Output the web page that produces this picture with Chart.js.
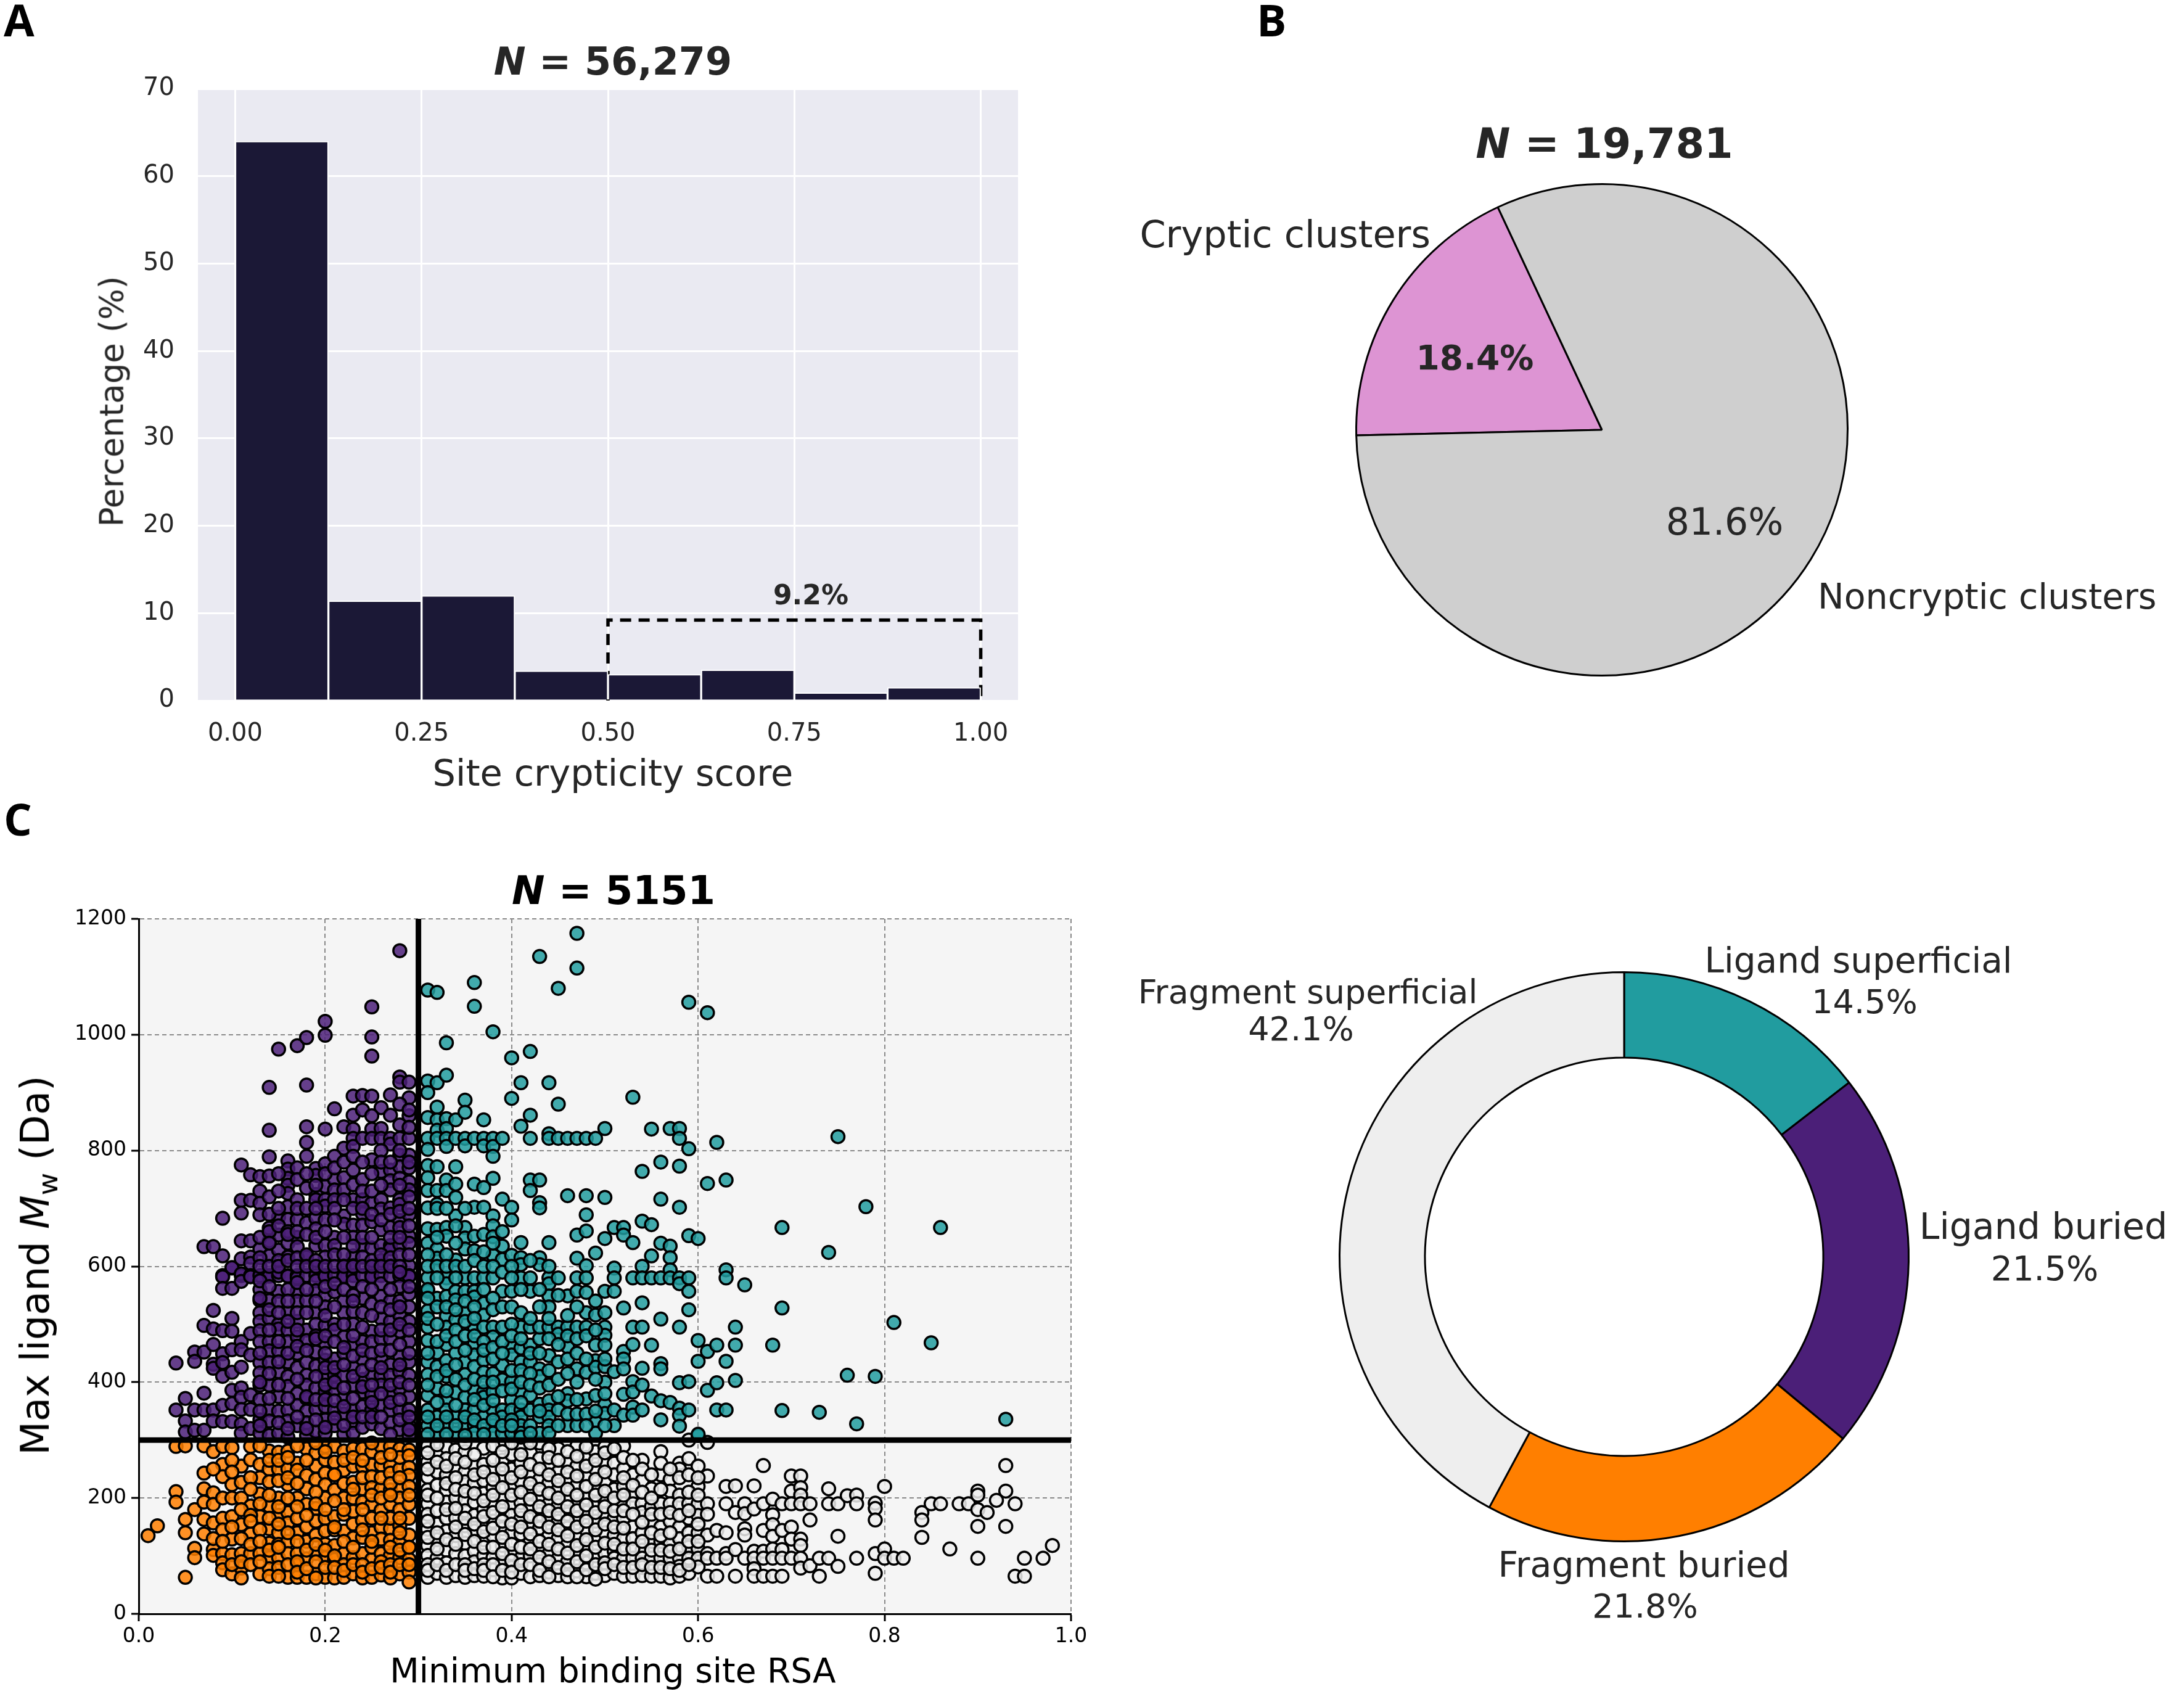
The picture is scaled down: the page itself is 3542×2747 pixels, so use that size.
<!DOCTYPE html>
<html>
<head>
<meta charset="utf-8">
<script src="https://cdn.jsdelivr.net/npm/chart.js@4/dist/chart.umd.min.js"></script>
<style>
html, body { margin: 0; padding: 0; background: #fff; }
body { width: 3542px; height: 2747px; position: relative; overflow: hidden; font-family: "DejaVu Sans"; }
canvas { position: absolute; }
.letter { position: absolute; font: bold 72px "Open Sans"; color: #000; line-height: 1; }
.title { position: absolute; font: bold 62px "DejaVu Sans"; color: #262626; transform: translate(-50%, -50%); white-space: nowrap; z-index: 2; }
.xlabel { position: absolute; color: #262626; transform: translate(-50%, -50%); white-space: nowrap; z-index: 2; }
.ylabel { position: absolute; color: #262626; transform: translate(-50%, -50%) rotate(-90deg); white-space: nowrap; z-index: 2; }
sub { font-size: 70%; line-height: 0; }
</style>
</head>
<body>
<div class="letter" style="left:6px;top:-5px">A</div>
<div class="letter" style="left:2038px;top:-5px">B</div>
<div class="letter" style="left:6px;top:1291px">C</div>
<div class="title" style="left:994px;top:99px"><i>N</i> = 56,279</div>
<div class="title" style="left:2602px;top:233px;font-size:67px"><i>N</i> = 19,781</div>
<div class="title" style="left:995px;top:1444px;font-size:64px;color:#000"><i>N</i> = 5151</div>
<div class="xlabel" style="left:994px;top:1253px;font-size:59px">Site crypticity score</div>
<div class="ylabel" style="left:181px;top:651px;font-size:53px">Percentage (%)</div>
<div class="xlabel" style="left:994px;top:2709px;font-size:55px;color:#000">Minimum binding site RSA</div>
<div class="ylabel" style="left:57px;top:2052px;font-size:63.5px;color:#000">Max ligand <i>M</i><sub>w</sub> (Da)</div>
<canvas id="histChart" width="1760" height="1300" style="left:0;top:0"></canvas>
<canvas id="pieChart" width="1762" height="1300" style="left:1780px;top:0"></canvas>
<canvas id="scatterChart" width="1780" height="1447" style="left:0;top:1300px"></canvas>
<canvas id="donutChart" width="1762" height="1447" style="left:1780px;top:1300px"></canvas>
<script>
// panel A
const binCenters = [0.0625, 0.1875, 0.3125, 0.4375, 0.5625, 0.6875, 0.8125, 0.9375];
const binPercent = [64, 11.4, 12, 3.4, 3, 3.5, 0.9, 1.5];
const histXTicks = [0, 0.25, 0.5, 0.75, 1];
const boxX = [0.5, 0.5, 1, 1];
const boxY = [0, 9.2, 9.2, 0];

// panel B
const pieLabels = ['Cryptic clusters', 'Noncryptic clusters'];
const pieValues = [18.4, 81.6];

// panel D
const donutLabels = ['Ligand superficial', 'Ligand buried', 'Fragment buried', 'Fragment superficial'];
const donutValues = [14.5, 21.5, 21.8, 42.1];

// panel C: [x, [y, y, ...]] by column
const ligandBuriedColumns = [
  [0.04, [433, 352]],
  [0.05, [372, 333, 314]],
  [0.06, [452, 436, 352, 317]],
  [0.07, [634, 498, 452, 381, 352, 317]],
  [0.08, [634, 524, 492, 465, 431, 424, 352, 333]],
  [0.09, [683, 618, 584, 582, 562, 489, 449, 434, 410, 360, 332]],
  [0.10, [597, 598, 562, 510, 488, 456, 417, 386, 363, 332]],
  [0.11, [775, 714, 692, 644, 613, 584, 587, 574, 470, 456, 426, 390, 374, 353, 328, 312]],
  [0.12, [758, 714, 644, 616, 605, 584, 582, 484, 447, 378, 353, 320]],
  [0.13, [755, 730, 709, 689, 630, 584, 560, 541, 520, 505, 489, 470, 434, 416, 395, 370, 335, 312]],
  [0.14, [909, 835, 789, 756, 666, 644, 618, 584, 583, 541, 510, 470, 454, 434, 395, 352, 333, 308]],
  [0.15, [975, 685, 654, 628, 584, 590, 557, 500, 492, 454, 418, 375, 350, 312]],
  [0.16, [782, 768, 752, 740, 726, 703, 681, 640, 616, 584, 583, 520, 490, 470, 435, 410, 393, 352, 333, 305]],
  [0.17, [981, 715, 681, 650, 634, 584, 580, 557, 540, 505, 478, 450, 425, 380, 360, 325]],
  [0.18, [995, 913, 841, 814, 675, 616, 584, 541, 490, 472, 434, 412, 395, 372, 350, 330, 308]],
  [0.19, [769, 757, 724, 715, 683, 665, 636, 584, 575, 558, 520, 500, 452, 428, 390, 353, 315]],
  [0.20, [1023, 999, 837, 777, 738, 715, 704, 636, 616, 584, 583, 550, 530, 498, 468, 438, 410, 383, 358, 335, 312]],
  [0.21, [872, 750, 732, 715, 650, 636, 584, 556, 500, 490, 440, 412, 388, 352, 325]],
  [0.22, [841, 804, 753, 732, 687, 673, 601, 584, 582, 540, 520, 478, 450, 412, 372, 345, 310]],
  [0.23, [894, 861, 837, 821, 807, 766, 741, 715, 671, 650, 618, 601, 584, 575, 522, 500, 465, 425, 395, 352, 330, 312]],
  [0.24, [895, 821, 715, 691, 671, 636, 616, 584, 545, 470, 440, 405, 383, 358, 322]],
  [0.25, [1048, 996, 963, 894, 837, 821, 784, 709, 677, 632, 584, 582, 535, 488, 470, 413, 378, 352, 328]],
  [0.26, [874, 838, 821, 764, 715, 699, 663, 636, 610, 584, 570, 548, 510, 475, 440, 412, 395, 360, 320]],
  [0.27, [896, 861, 821, 811, 766, 748, 732, 701, 667, 636, 630, 601, 583, 540, 505, 475, 430, 412, 380, 352, 330]],
  [0.28, [1145, 927, 918, 844, 821, 792, 772, 752, 715, 707, 679, 667, 638, 584, 565, 540, 515, 488, 445, 418, 388, 352, 318]],
  [0.29, [918, 891, 860, 821, 792, 770, 746, 732, 689, 652, 640, 601, 584, 583, 552, 530, 505, 470, 435, 412, 375, 352, 325, 308]]
];
const ligandBuriedExtra = [
  [0.13, [650, 615, 600, 575, 545, 450, 400, 350, 325]],
  [0.14, [720, 690, 660, 640, 600, 565, 525, 490, 415, 372]],
  [0.15, [760, 730, 700, 670, 610, 600, 540, 520, 470, 435, 395, 330]],
  [0.16, [660, 655, 610, 560, 540, 505, 450, 372, 320]],
  [0.17, [770, 750, 700, 660, 615, 600, 572, 520, 490, 462, 405, 340]],
  [0.18, [790, 760, 735, 700, 655, 620, 600, 560, 520, 455, 375, 320]],
  [0.19, [740, 700, 650, 610, 600, 540, 480, 475, 410, 370, 335]],
  [0.20, [760, 680, 660, 600, 565, 515, 480, 450, 425, 395, 370, 322]],
  [0.21, [790, 770, 700, 680, 620, 600, 570, 530, 470, 425, 400, 368, 338]],
  [0.22, [780, 715, 650, 620, 600, 560, 500, 460, 430, 390, 358, 325]],
  [0.23, [790, 700, 635, 600, 550, 540, 480, 445, 410, 372, 340]],
  [0.24, [870, 780, 750, 730, 700, 650, 600, 565, 520, 495, 455, 420, 392, 340]],
  [0.25, [860, 760, 730, 690, 650, 610, 600, 560, 515, 450, 430, 395, 365, 340]],
  [0.26, [800, 780, 740, 680, 620, 600, 530, 490, 455, 425, 380, 340]],
  [0.27, [780, 690, 650, 615, 600, 560, 525, 490, 455, 395, 365, 310]],
  [0.28, [880, 800, 740, 695, 650, 620, 600, 590, 530, 500, 465, 430, 400, 370, 335]],
  [0.29, [870, 840, 780, 720, 700, 670, 620, 565, 490, 450, 395, 340, 318]]
];

const ligandSuperficialColumns = [
  [0.31, [1077, 920, 900, 857, 821, 802, 774, 753, 731, 701, 665, 640, 580, 557, 523, 495, 472, 435, 413, 377, 352, 325]],
  [0.32, [1073, 917, 875, 853, 835, 821, 772, 731, 707, 664, 630, 614, 545, 451, 427, 389, 340, 312]],
  [0.33, [986, 930, 855, 838, 821, 807, 749, 731, 667, 652, 580, 570, 548, 514, 495, 465, 437, 410, 369, 352, 325]],
  [0.34, [853, 821, 772, 742, 719, 687, 611, 557, 542, 508, 450, 382, 340, 312]],
  [0.35, [887, 866, 821, 808, 667, 649, 630, 580, 557, 520, 435, 413, 374, 352, 325]],
  [0.36, [1090, 1049, 821, 742, 702, 652, 627, 580, 557, 547, 495, 465, 447, 427, 386, 352, 325, 312]],
  [0.37, [853, 821, 808, 736, 702, 655, 580, 536, 516, 495, 438, 417, 383, 374, 340]],
  [0.38, [1005, 821, 807, 790, 752, 687, 670, 651, 619, 580, 495, 478, 415, 383, 352, 325, 312]],
  [0.39, [821, 716, 635, 612, 495, 429, 404, 557, 352, 340, 312]],
  [0.40, [960, 890, 702, 680, 619, 557, 462, 447, 401, 369, 352, 312]],
  [0.41, [917, 842, 641, 615, 603, 580, 495, 459, 435, 383, 352, 340, 325, 312]],
  [0.42, [971, 861, 821, 749, 731, 580, 557, 495, 464, 435, 377, 352]],
  [0.43, [1135, 749, 710, 701, 615, 603, 475, 423, 410, 495, 362, 340, 312]],
  [0.44, [917, 829, 821, 641, 580, 570, 549, 530, 495, 446, 368, 352, 340, 325, 312]],
  [0.45, [1080, 880, 821, 580, 495, 483, 435, 352]],
  [0.46, [821, 722, 549, 495, 461, 440, 380, 368, 325]],
  [0.47, [1175, 1115, 821, 654, 614, 580, 557, 495, 450, 423, 400, 325]],
  [0.48, [821, 722, 689, 661, 601, 580, 520, 495, 417, 371]],
  [0.49, [821, 623, 516, 464, 437, 426, 377, 334, 312]],
  [0.50, [838, 719, 648, 557, 495, 481, 464, 427, 400, 361, 346]],
  [0.51, [667, 597, 580, 557, 418, 352, 325]],
  [0.52, [667, 654, 528, 453, 440, 423, 379, 343]],
  [0.53, [892, 641, 580, 495, 465, 401, 383, 357, 343]],
  [0.54, [764, 678, 600, 580, 537, 495, 424, 395, 352]],
  [0.55, [837, 672, 618, 580, 464, 376]],
  [0.56, [780, 716, 640, 580, 509, 432, 423, 368, 335]],
  [0.57, [838, 635, 615, 594, 580, 365]],
  [0.58, [838, 821, 773, 702, 580, 570, 495, 399, 355, 343, 324]],
  [0.59, [1056, 803, 653, 580, 557, 525, 401, 352]],
  [0.60, [648, 472, 436, 308, 310]],
  [0.61, [1038, 743, 453, 386]],
  [0.62, [814, 464, 399, 352]],
  [0.63, [749, 594, 580, 436, 352]],
  [0.64, [495, 464, 403]],
  [0.65, [568]],
  [0.68, [464]],
  [0.69, [667, 528, 351]],
  [0.73, [348]],
  [0.74, [624]],
  [0.75, [824]],
  [0.76, [412]],
  [0.77, [328]],
  [0.78, [703]],
  [0.79, [410]],
  [0.81, [503]],
  [0.85, [468]],
  [0.86, [667]],
  [0.93, [336]]
];
const ligandSuperficialExtra = [
  [0.31, [620, 600, 560, 545, 510, 450, 395, 340, 310]],
  [0.32, [700, 650, 600, 580, 530, 500, 470, 410, 365, 325]],
  [0.33, [700, 620, 600, 530, 480, 420, 385, 340, 310]],
  [0.34, [670, 640, 600, 580, 525, 490, 470, 430, 405, 360, 325]],
  [0.35, [700, 600, 540, 505, 480, 455, 395, 340, 308]],
  [0.36, [610, 530, 510, 480, 405, 370, 335]],
  [0.37, [625, 600, 560, 470, 455, 400, 360, 325, 310]],
  [0.38, [640, 600, 545, 525, 460, 440, 400, 368, 335]],
  [0.39, [660, 590, 530, 470, 450, 385, 325]],
  [0.40, [600, 580, 530, 500, 480, 420, 388, 335, 325]],
  [0.41, [560, 520, 475, 420, 400, 365, 305]],
  [0.42, [610, 510, 450, 415, 395, 325, 312]],
  [0.43, [560, 530, 450, 390, 350]],
  [0.44, [600, 510, 475, 420, 395]],
  [0.45, [550, 465, 405, 375, 325]],
  [0.46, [515, 480, 415, 345]],
  [0.47, [530, 475, 370, 345]],
  [0.48, [555, 480, 440, 345, 325]],
  [0.49, [540, 490, 405, 350]],
  [0.50, [520, 440, 380, 325]]
];

const fragmentBuriedColumns = [
  [0.01, [135]],
  [0.02, [152]],
  [0.04, [289, 211, 193]],
  [0.05, [290, 163, 140, 63]],
  [0.06, [180, 113, 97]],
  [0.07, [290, 243, 216, 193, 163, 138]],
  [0.08, [280, 209, 189, 157, 111, 101]],
  [0.09, [289, 258, 237, 200, 165, 145, 104, 88, 76]],
  [0.10, [287, 223, 200, 168, 129, 102, 69]],
  [0.11, [255, 227, 200, 154, 104, 79, 62]],
  [0.12, [289, 266, 186, 138, 104]],
  [0.13, [258, 235, 207, 168, 104, 69]],
  [0.14, [281, 250, 228, 186, 147, 122, 97, 78]],
  [0.15, [279, 250, 200, 140, 97, 170, 120]],
  [0.16, [281, 250, 223, 175, 157, 125, 104, 63]],
  [0.17, [260, 248, 200, 165, 140, 104, 63, 85]],
  [0.18, [285, 239, 216, 189, 150, 125, 95, 63]],
  [0.19, [278, 232, 182, 136, 104, 69, 160, 255]],
  [0.20, [289, 266, 243, 223, 200, 165, 143, 97, 63, 120]],
  [0.21, [289, 262, 214, 168, 118, 94, 62, 240, 145]],
  [0.22, [281, 248, 225, 200, 172, 143, 104, 63, 85]],
  [0.23, [285, 227, 200, 177, 131, 97, 69, 255, 155]],
  [0.24, [285, 255, 216, 193, 161, 132, 104, 62, 235]],
  [0.25, [280, 257, 237, 218, 189, 140, 94, 63, 165, 115]],
  [0.26, [289, 257, 216, 179, 149, 129, 104, 67, 235]],
  [0.27, [289, 255, 243, 214, 189, 147, 127, 101, 62, 165]],
  [0.28, [285, 250, 218, 200, 180, 152, 125, 97, 69, 270]],
  [0.29, [283, 273, 253, 239, 220, 189, 165, 136, 115, 94, 72, 55]]
];
const fragmentBuriedExtra = [
  [0.08, [250, 130]],
  [0.09, [125]],
  [0.10, [265, 245, 150, 85]],
  [0.11, [180, 130, 90]],
  [0.12, [235, 215, 170, 160, 120, 85]],
  [0.13, [290, 190, 145, 125, 90]],
  [0.14, [265, 205, 165, 110, 65]],
  [0.15, [265, 230, 185, 155, 115, 80, 65]],
  [0.16, [270, 235, 200, 140, 85]],
  [0.17, [290, 225, 185, 125, 90, 72]],
  [0.18, [265, 170, 110, 78]],
  [0.19, [295, 210, 190, 120, 90, 62]],
  [0.20, [280, 180, 110, 80]],
  [0.21, [240, 195, 150, 100, 80]],
  [0.22, [265, 180, 125, 75]],
  [0.23, [270, 215, 115, 85]],
  [0.24, [265, 180, 145, 85, 72]],
  [0.25, [295, 205, 125, 78]],
  [0.26, [270, 200, 165, 90, 80]],
  [0.27, [275, 225, 205, 115, 85, 72]],
  [0.28, [235, 165, 140, 110, 85]],
  [0.29, [205, 115, 85]]
];

const fragmentSuperficialColumns = [
  [0.31, [290, 262, 236, 214, 190, 172, 146, 118, 101, 63]],
  [0.32, [275, 245, 222, 178, 155, 128, 96, 70]],
  [0.33, [288, 268, 240, 214, 193, 165, 143, 110, 88, 63]],
  [0.34, [283, 250, 200, 165, 135, 104, 66]],
  [0.35, [280, 245, 228, 197, 178, 152, 122, 100, 63]],
  [0.36, [256, 226, 193, 170, 143, 108, 90, 66]],
  [0.37, [286, 258, 230, 208, 180, 155, 128, 100, 65]],
  [0.38, [248, 218, 190, 160, 135, 97, 76]],
  [0.39, [292, 265, 235, 200, 172, 147, 118, 88, 62]],
  [0.40, [275, 250, 220, 190, 170, 140, 104, 80, 62]],
  [0.41, [290, 260, 228, 192, 165, 138, 96, 70]],
  [0.42, [278, 240, 210, 185, 150, 125, 100, 64]],
  [0.43, [295, 268, 232, 200, 172, 148, 112, 85, 66]],
  [0.44, [255, 226, 190, 165, 135, 104, 72]],
  [0.45, [285, 245, 215, 187, 160, 130, 96, 66]],
  [0.46, [262, 232, 198, 172, 148, 120, 90, 64]],
  [0.47, [290, 255, 222, 188, 165, 135, 104, 74]],
  [0.48, [270, 240, 200, 175, 145, 112, 88, 64]],
  [0.49, [280, 250, 215, 190, 160, 130, 100, 70]],
  [0.50, [288, 262, 230, 195, 172, 140, 104, 66]],
  [0.51, [260, 240, 215, 190, 165, 135, 108, 96, 70]],
  [0.52, [290, 250, 220, 190, 165, 130, 96, 65]],
  [0.53, [240, 205, 190, 150, 130, 96, 65]],
  [0.54, [265, 230, 190, 175, 140, 110, 96, 80, 66]],
  [0.55, [216, 185, 160, 125, 96, 65]],
  [0.56, [280, 240, 190, 150, 125, 96, 65]],
  [0.57, [232, 212, 190, 160, 120, 96, 62]],
  [0.58, [260, 250, 205, 190, 150, 130, 96, 82, 65]],
  [0.59, [300, 268, 190, 165, 140, 115, 96, 70]],
  [0.60, [255, 220, 190, 170, 140, 112, 96, 81]],
  [0.61, [296, 238, 190, 172, 136, 104, 96, 65]],
  [0.62, [144, 96, 65]],
  [0.63, [220, 190, 140, 104, 96]],
  [0.64, [221, 175, 111, 65]],
  [0.65, [190, 173, 147, 136, 96]],
  [0.66, [221, 181, 108, 96, 78, 65]],
  [0.67, [256, 190, 144, 108, 96, 65]],
  [0.68, [198, 171, 154, 134, 112, 96, 65]],
  [0.69, [190, 144, 111, 96, 65]],
  [0.70, [238, 212, 190, 150, 129, 96]],
  [0.71, [238, 218, 205, 190, 129, 118, 96, 79]],
  [0.72, [190, 162, 83]],
  [0.73, [96, 65]],
  [0.74, [216, 190, 96]],
  [0.75, [190, 134, 82]],
  [0.76, [204]],
  [0.77, [205, 190, 96]],
  [0.79, [191, 182, 162, 104, 70]],
  [0.80, [220, 112, 96]],
  [0.81, [96]],
  [0.82, [96]],
  [0.84, [175, 162, 132]],
  [0.85, [190]],
  [0.86, [190]],
  [0.87, [112]],
  [0.88, [190]],
  [0.89, [190]],
  [0.90, [212, 205, 180, 151, 96]],
  [0.91, [175]],
  [0.92, [196]],
  [0.93, [256, 212, 151]],
  [0.94, [190, 65]],
  [0.95, [96, 65]],
  [0.97, [96]],
  [0.98, [118]]
];
const fragmentSuperficialExtra = [
  [0.31, [278, 250, 205, 160, 132, 85, 75]],
  [0.32, [292, 262, 200, 140, 112, 85]],
  [0.33, [255, 225, 180, 128, 75]],
  [0.34, [268, 235, 215, 182, 150, 120, 85]],
  [0.35, [295, 262, 212, 165, 137, 85, 75]],
  [0.36, [275, 240, 208, 155, 125, 78]],
  [0.37, [245, 195, 168, 142, 115, 85, 75]],
  [0.38, [290, 265, 232, 205, 175, 148, 115, 85, 64]],
  [0.39, [280, 250, 218, 185, 160, 132, 104, 75]],
  [0.40, [295, 235, 205, 155, 120, 92, 72]],
  [0.41, [275, 245, 210, 178, 150, 115, 85]],
  [0.42, [295, 258, 225, 198, 168, 138, 112, 85]],
  [0.43, [250, 215, 185, 160, 125, 98, 75]],
  [0.44, [285, 270, 240, 208, 178, 150, 120, 90, 64]],
  [0.45, [265, 230, 200, 172, 145, 112, 80]],
  [0.46, [280, 245, 215, 185, 160, 135, 105, 76]],
  [0.47, [272, 238, 205, 178, 150, 118, 90, 64]],
  [0.48, [288, 255, 220, 188, 160, 128, 100, 76]],
  [0.49, [265, 232, 205, 175, 145, 115, 85, 60]],
  [0.50, [278, 245, 212, 185, 155, 122, 88, 78]],
  [0.51, [285, 200, 178, 150, 120, 85]],
  [0.52, [270, 235, 205, 178, 148, 112, 80]],
  [0.53, [265, 222, 172, 112, 80]],
  [0.54, [250, 210, 158, 125, 85]],
  [0.55, [240, 200, 172, 140, 110, 80]],
  [0.56, [260, 215, 172, 135, 110, 80]],
  [0.57, [250, 175, 140, 108, 78]],
  [0.58, [235, 170, 112, 75]],
  [0.59, [240, 210, 178, 125, 85]],
  [0.60, [235, 205, 155, 125]]
];

const scatterTicksX = [0, 0.2, 0.4, 0.6, 0.8, 1];
const scatterTicksY = [0, 200, 400, 600, 800, 1000, 1200];
const cutoffRsa = 0.3;
const cutoffMw = 300;

function expandColumns(columns) {
  return columns.flatMap(([x, ys]) => ys.map(y => ({x, y})));
}

// draws loose labels, positions are page pixels
const textItemsPlugin = {
  id: 'textItems',
  afterDatasetsDraw(chart, args, opts) {
    const ctx = chart.ctx;
    const box = chart.canvas.getBoundingClientRect();
    ctx.save();
    (opts.items || []).forEach(it => {
      ctx.font = it.font;
      ctx.fillStyle = it.color || '#262626';
      ctx.textAlign = it.align || 'center';
      ctx.textBaseline = 'middle';
      ctx.fillText(it.text, it.x - box.left, it.y - box.top);
    });
    ctx.restore();
  }
};

const plotBackgroundPlugin = {
  id: 'plotBackground',
  beforeDraw(chart, args, opts) {
    if (!opts.color) return;
    const a = chart.chartArea;
    chart.ctx.save();
    chart.ctx.fillStyle = opts.color;
    chart.ctx.fillRect(a.left, a.top, a.right - a.left, a.bottom - a.top);
    chart.ctx.restore();
  }
};

Chart.register(textItemsPlugin, plotBackgroundPlugin);
Chart.defaults.font.family = 'DejaVu Sans';
Chart.defaults.animation = false;
Chart.defaults.responsive = false;
Chart.defaults.devicePixelRatio = 1;
Chart.defaults.plugins.legend.display = false;
Chart.defaults.plugins.tooltip.enabled = false;

new Chart(document.getElementById('histChart'), {
  type: 'bar',
  data: {
    datasets: [{
      type: 'line',
      data: boxX.map((x, i) => ({x, y: boxY[i]})),
      borderColor: '#000',
      borderWidth: 5.5,
      borderDash: [18, 12],
      pointRadius: 0,
      tension: 0,
      order: 2
    }, {
      data: binCenters.map((x, i) => ({x, y: binPercent[i]})),
      backgroundColor: '#1b1836',
      borderColor: '#fff',
      borderWidth: 2,
      barPercentage: 1,
      categoryPercentage: 1,
      order: 1
    }]
  },
  options: {
    layout: {padding: {top: 144, right: 109}},
    plugins: {
      plotBackground: {color: '#eaeaf2'},
      textItems: {items: [{text: '9.2%', x: 1315, y: 969, font: 'bold 44px "DejaVu Sans"'}]}
    },
    scales: {
      x: {
        type: 'linear',
        min: -0.05,
        max: 1.05,
        offset: false,
        afterFit: s => { s.height = 164; },
        afterBuildTicks: s => { s.ticks = histXTicks.map(value => ({value})); },
        grid: {color: '#fff', lineWidth: 3, drawTicks: false, offset: false},
        border: {display: false},
        ticks: {color: '#262626', font: {size: 40}, padding: 31, maxRotation: 0, callback: v => v.toFixed(2)}
      },
      y: {
        min: 0,
        max: 70,
        afterFit: s => { s.width = 321; },
        grid: {color: '#fff', lineWidth: 3, drawTicks: false},
        border: {display: false},
        ticks: {color: '#262626', font: {size: 40}, padding: 38, stepSize: 10}
      }
    }
  }
});

new Chart(document.getElementById('pieChart'), {
  type: 'pie',
  data: {
    labels: pieLabels,
    datasets: [{
      data: pieValues,
      backgroundColor: ['#dd94d3', '#cfcfcf'],
      borderColor: '#000',
      borderWidth: 3
    }]
  },
  options: {
    rotation: -91.3,
    layout: {padding: {left: 418, right: 544, top: 297, bottom: 203}},
    plugins: {
      textItems: {items: [
        {text: pieLabels[0], x: 2320, y: 385, align: 'right', font: '60.5px "DejaVu Sans"'},
        {text: pieLabels[1], x: 2948, y: 972, align: 'left', font: '57px "DejaVu Sans"'},
        {text: pieValues[0] + '%', x: 2392, y: 585, font: 'bold 55px "DejaVu Sans"'},
        {text: pieValues[1] + '%', x: 2797, y: 851, font: '60px "DejaVu Sans"'}
      ]}
    }
  }
});

new Chart(document.getElementById('scatterChart'), {
  type: 'scatter',
  data: {
    datasets: [
      {data: [{x: cutoffRsa, y: 0}, {x: cutoffRsa, y: 1200}], showLine: true, pointRadius: 0, borderColor: '#000', borderWidth: 9, order: 0},
      {data: [{x: 0, y: cutoffMw}, {x: 1, y: cutoffMw}], showLine: true, pointRadius: 0, borderColor: '#000', borderWidth: 9, order: 0},
      {data: expandColumns(fragmentSuperficialColumns.concat(fragmentSuperficialExtra)), backgroundColor: 'rgba(238,238,238,0.85)', order: 4},
      {data: expandColumns(fragmentBuriedColumns.concat(fragmentBuriedExtra)), backgroundColor: 'rgba(255,127,0,0.85)', order: 3},
      {data: expandColumns(ligandBuriedColumns.concat(ligandBuriedExtra)), backgroundColor: 'rgba(75,31,120,0.85)', order: 2},
      {data: expandColumns(ligandSuperficialColumns.concat(ligandSuperficialExtra)), backgroundColor: 'rgba(33,156,159,0.85)', order: 1}
    ]
  },
  options: {
    layout: {padding: {top: 190, right: 43}},
    elements: {point: {radius: 10.5, borderWidth: 3.5, borderColor: '#000'}},
    plugins: {plotBackground: {color: '#f5f5f5'}},
    scales: {
      x: {
        min: 0,
        max: 1,
        afterFit: s => { s.height = 130; },
        afterBuildTicks: s => { s.ticks = scatterTicksX.map(value => ({value})); },
        grid: {color: '#8a8a8a', lineWidth: 2, tickColor: '#000', tickLength: 12, tickWidth: 3},
        border: {color: '#000', width: 3, dash: [7, 5]},
        ticks: {color: '#000', font: {size: 33}, padding: 6, maxRotation: 0, callback: v => v.toFixed(1)}
      },
      y: {
        min: 0,
        max: 1200,
        afterFit: s => { s.width = 225; },
        afterBuildTicks: s => { s.ticks = scatterTicksY.map(value => ({value})); },
        grid: {color: '#8a8a8a', lineWidth: 2, tickColor: '#000', tickLength: 12, tickWidth: 3},
        border: {color: '#000', width: 3, dash: [7, 5]},
        ticks: {color: '#000', font: {size: 33}, padding: 8, callback: v => String(v)}
      }
    }
  }
});

new Chart(document.getElementById('donutChart'), {
  type: 'doughnut',
  data: {
    labels: donutLabels,
    datasets: [{
      data: donutValues,
      backgroundColor: ['#219c9f', '#4b1f78', '#ff7f00', '#eeeeee'],
      borderColor: '#000',
      borderWidth: 3
    }]
  },
  options: {
    cutout: '70%',
    layout: {padding: {left: 391, right: 445, top: 275, bottom: 246}},
    plugins: {
      textItems: {items: [
        {text: donutLabels[0], x: 3014, y: 1562, font: '56.5px "DejaVu Sans"'},
        {text: donutValues[0] + '%', x: 3024, y: 1629, font: '54px "DejaVu Sans"'},
        {text: donutLabels[1], x: 3314, y: 1994, font: '58.5px "DejaVu Sans"'},
        {text: donutValues[1] + '%', x: 3316, y: 2062, font: '55px "DejaVu Sans"'},
        {text: donutLabels[2], x: 2666, y: 2542, font: '57px "DejaVu Sans"'},
        {text: donutValues[2] + '%', x: 2668, y: 2609, font: '54px "DejaVu Sans"'},
        {text: donutLabels[3], x: 2121, y: 1613, font: '53.7px "DejaVu Sans"'},
        {text: donutValues[3] + '%', x: 2110, y: 1673, font: '54px "DejaVu Sans"'}
      ]}
    }
  }
});
</script>
</body>
</html>
